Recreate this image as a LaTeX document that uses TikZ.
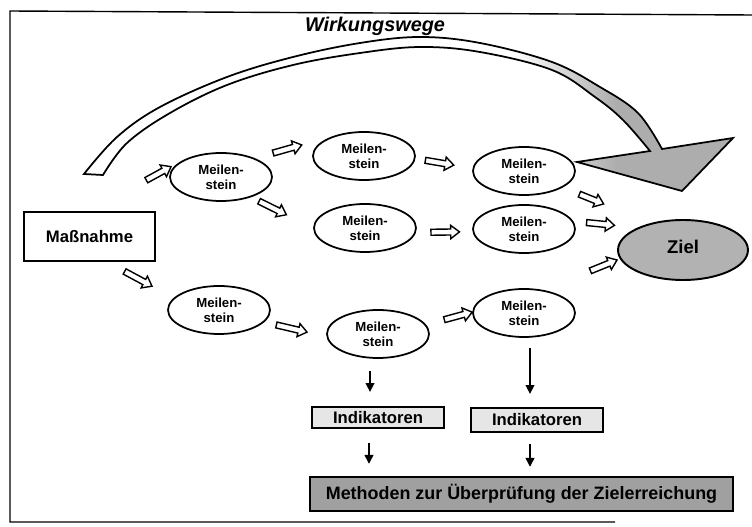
\documentclass[tikz,border=0pt]{standalone}
\usepackage{fontspec}
\setmainfont{Liberation Sans}
\usetikzlibrary{arrows.meta,shapes.geometric,calc}
\definecolor{cZiel}{HTML}{B2B2B2}
\definecolor{cInd}{HTML}{E6E6E6}
\definecolor{cMeth}{HTML}{A0A0A0}
\definecolor{cBand}{HTML}{ADADAD}
\pgfdeclarehorizontalshading{bandshade}{100bp}{color(0bp)=(white); color(58bp)=(white); color(66bp)=(cBand); color(100bp)=(cBand)}

% hollow block arrow between two anchors; #3/#4 = gap (px) at start/end
\newcommand{\blockarrow}[4]{%
  \draw[blkarr] let \p1=(#1), \p2=(#2),
    \n1={atan2(\y2-\y1,\x2-\x1)}, \n2={veclen(\x2-\x1,\y2-\y1)} in
    {[shift={(\p1)}, rotate=\n1]
      ({#3*0.567pt},-1.7pt) -- ({\n2*1pt-#4*0.567pt-5pt},-1.7pt)
      -- ({\n2*1pt-#4*0.567pt-5pt},-3.8pt) -- ({\n2*1pt-#4*0.567pt},0pt)
      -- ({\n2*1pt-#4*0.567pt-5pt},3.8pt) -- ({\n2*1pt-#4*0.567pt-5pt},1.7pt)
      -- ({#3*0.567pt},1.7pt) -- cycle};}

\begin{document}
\begin{tikzpicture}[
    x=0.02cm, y=-0.02cm,
    mstone/.style={ellipse, draw, line width=1pt, minimum width=2.04cm, minimum height=0.96cm, inner sep=0pt, align=center, font=\bfseries\fontsize{7.5}{8.5}\selectfont},
    box/.style={draw, inner sep=1pt, font=\bfseries\fontsize{9.5}{11}\selectfont},
    blkarr/.style={draw, fill=white, line width=0.8pt, line join=miter},
    darr/.style={-{Triangle[length=5pt,width=5pt]}, line width=0.8pt},
    bigarrow/.style={draw, line width=1pt, line join=miter, shading=bandshade}
]
\useasboundingbox (0,0) rectangle (752,527);
\draw[line width=0.8pt] (752,15) -- (10,11) -- (10,522) -- (615,522);

\node[font=\bfseries\itshape\fontsize{11.3}{13}\selectfont] (title) at (375,26) {Wirkungswege};

% curved arrow
\draw[bigarrow] plot[smooth, tension=0.6] coordinates {(84,174) (117,137) (160,107) (227,77) (293,57) (360,43) (420,37) (480,43) (552,62) (600,87) (638,113) (662,149)}
  -- (733,138) -- (682,191) -- (577,162) -- (650,151)
  -- plot[smooth, tension=0.6] coordinates {(650,151) (623,120) (595,97) (552,70) (480,52) (420,47) (360,53) (293,65) (227,85) (170,113) (127,143) (103,175)}
  -- cycle;

\node[box, line width=0.9pt, minimum width=2.62cm, minimum height=0.98cm] (mass) at (89.5,236.5) {Maßnahme};

\node[mstone] (m1) at (221,177) {Meilen-\\stein};
\node[mstone] (m2) at (364,156) {Meilen-\\stein};
\node[mstone] (m3) at (524,171) {Meilen-\\stein};
\node[mstone] (m4) at (365,228) {Meilen-\\stein};
\node[mstone] (m5) at (524,229) {Meilen-\\stein};
\node[mstone] (m6) at (219,310) {Meilen-\\stein};
\node[mstone] (m7) at (378,334) {Meilen-\\stein};
\node[mstone] (m8) at (524,313) {Meilen-\\stein};
\node[ellipse, draw, line width=1.1pt, fill=cZiel, minimum width=2.6cm, minimum height=1.2cm, inner sep=0pt, font=\bfseries\fontsize{10.5}{12}\selectfont] (ziel) at (683,250) {\raisebox{4pt}{Ziel}};

\node[box, line width=1.3pt, fill=cInd, minimum width=2.64cm, minimum height=0.42cm] (ind1) at (378,417.5) {Indikatoren};
\node[box, line width=1.3pt, fill=cInd, minimum width=2.64cm, minimum height=0.48cm] (ind2) at (537,420) {Indikatoren};
\node[box, line width=1.4pt, fill=cMeth, minimum width=8.46cm, minimum height=0.68cm, font=\bfseries\fontsize{10.2}{12}\selectfont] (meth) at (521.5,494) {Methoden zur Überprüfung der Zielerreichung};

\blockarrow{mass.north}{m1.155}{65}{14.6}
\blockarrow{m1.29}{m2.148}{19}{32}
\blockarrow{m1.326}{m4.180}{9}{30}
\blockarrow{m2.357}{m3.177}{10}{19}
\blockarrow{m4.355}{m5.183}{15}{13}
\blockarrow{m3.337}{ziel.140}{18}{51}
\blockarrow{m5.9}{ziel.154}{13.5}{23}
\blockarrow{m8.50}{ziel.188}{51}{3}
\blockarrow{mass.304}{m6.165}{20.6}{24.7}
\blockarrow{m6.345}{m7.183}{12.5}{20}
\blockarrow{m7.11}{m8.179}{19}{0}

\coordinate (m7_start) at ([xshift=-0.16cm]m7.south);
\coordinate (m8_start) at ([xshift=0.12cm]m8.south);
\coordinate (i1_start) at ([xshift=-0.18cm]ind1.south);
\coordinate (i2_start) at ([xshift=-0.14cm]ind2.south);
\draw[darr, shorten <=0.24cm, shorten >=0.28cm] (m7_start) -- (m7_start |- ind1.north);
\draw[darr, shorten <=0.2cm, shorten >=0.26cm] (m8_start) -- (m8_start |- ind2.north);
\draw[darr, shorten <=0.28cm, shorten >=0.24cm] (i1_start) -- (i1_start |- meth.north);
\draw[darr, shorten <=0.22cm, shorten >=0.18cm] (i2_start) -- (i2_start |- meth.north);

\end{tikzpicture}
\end{document}
